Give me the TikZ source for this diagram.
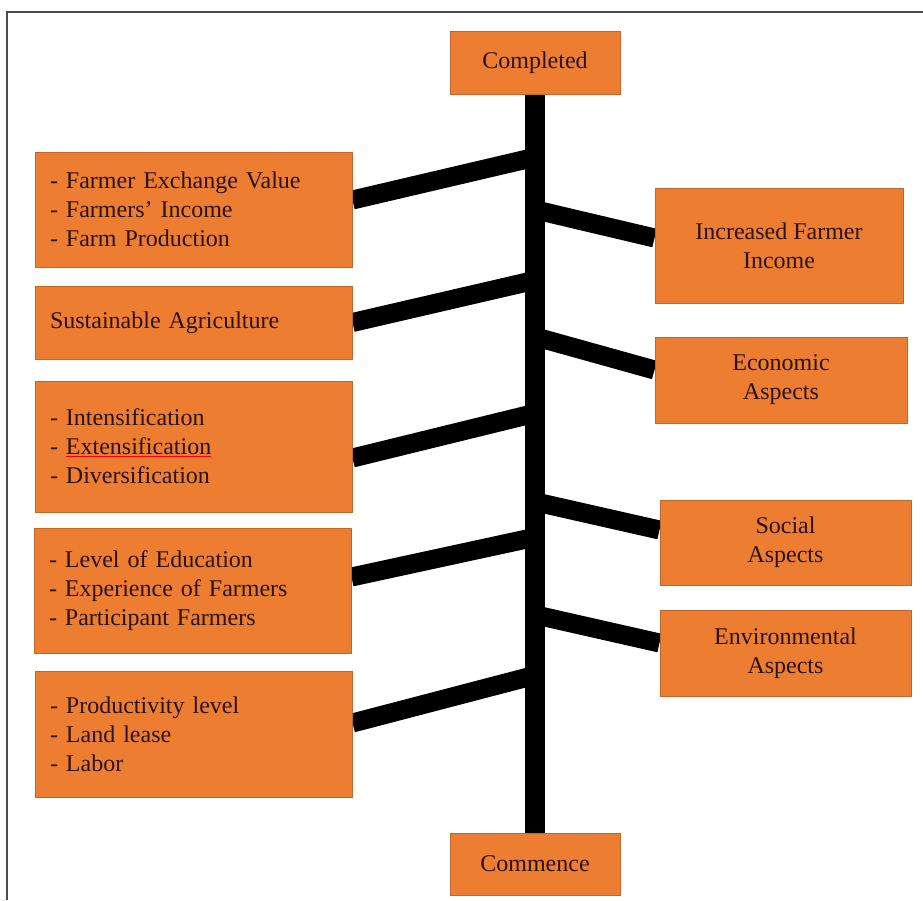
\documentclass[tikz,border=0pt]{standalone}
\usepackage{fontspec}
\setmainfont{Liberation Serif}
\usetikzlibrary{backgrounds}
\definecolor{boxfill}{HTML}{ED7D31}
\definecolor{boxline}{HTML}{C5652A}
\definecolor{txtcol}{HTML}{2A1208}
\begin{document}
\begin{tikzpicture}[x=1pt,y=-1pt,
  box/.style={rectangle, fill=boxfill, draw=boxline, line width=1pt, text=txtcol, inner sep=0pt, font=\fontsize{24}{29}\selectfont},
  lbox/.style={box, minimum width=317pt, text width=287pt, align=left},
  rbox/.style={box, align=center},
  bar/.style={line width=19pt}]
\useasboundingbox (0,0) rectangle (923,900);
\draw[gray!60!black, line width=2pt] (7,900) -- (7,12) -- (923,12);
\node[box, minimum width=170pt, minimum height=63pt] (eid0) at (535,62.5){Completed};
\node[box, minimum width=170pt, minimum height=62pt] (sid0) at (535,864){Commence};
\node[lbox, minimum height=115pt] (lid1) at (193.5,209.5){- Farmer Exchange Value\\- Farmers' Income\\- Farm Production};
\node[lbox, minimum height=73pt] (lid2) at (193.5,322.5){Sustainable Agriculture};
\node[lbox, minimum height=131pt] (lid3) at (193.5,446.5){- Intensification\\- \textcolor{red}{\underline{\textcolor{txtcol}{Extensification}}}\\- Diversification};
\node[lbox, minimum height=125pt] (lid4) at (192.5,590.5){- Level of Education\\- Experience of Farmers\\- Participant Farmers};
\node[lbox, minimum height=126pt] (lid5) at (193.5,734){- Productivity level\\- Land lease\\- Labor};
\node[rbox, minimum width=248pt, minimum height=115pt] (rid1) at (779,245.5){Increased Farmer\\Income};
\node[rbox, minimum width=252pt, minimum height=86pt] (rid2) at (781,380){Economic\\Aspects};
\node[rbox, minimum width=251pt, minimum height=85pt] (rid3) at (785.5,542.5){Social\\Aspects};
\node[rbox, minimum width=251pt, minimum height=86pt] (rid4) at (785.5,653){Environmental\\Aspects};
\coordinate (sp1) at (536,157);
\coordinate (sp2) at (536,280);
\coordinate (sp3) at (536,413);
\coordinate (sp4) at (536,537);
\coordinate (sp5) at (536,675);
\coordinate (sq1) at (536,210);
\coordinate (sq2) at (536,337);
\coordinate (sq3) at (536,502);
\coordinate (sq4) at (536,615);
\begin{scope}[on background layer]
\draw[line width=20pt](eid0.south) -- (sid0.north);
\draw[bar]([yshift=9.5pt]lid1.east) -- (sp1);
\draw[bar](lid2.east) -- (sp2);
\draw[bar]([yshift=-11.5pt]lid3.east) -- (sp3);
\draw[bar]([yshift=13.5pt]lid4.east) -- (sp4);
\draw[bar]([yshift=11pt]lid5.east) -- (sp5);
\draw[bar](sq1) -- ([yshift=7.5pt]rid1.west);
\draw[bar](sq2) -- ([yshift=10pt]rid2.west);
\draw[bar](sq3) -- ([yshift=12.5pt]rid3.west);
\draw[bar](sq4) -- ([yshift=10pt]rid4.west);
\end{scope}
\end{tikzpicture}
\end{document}
